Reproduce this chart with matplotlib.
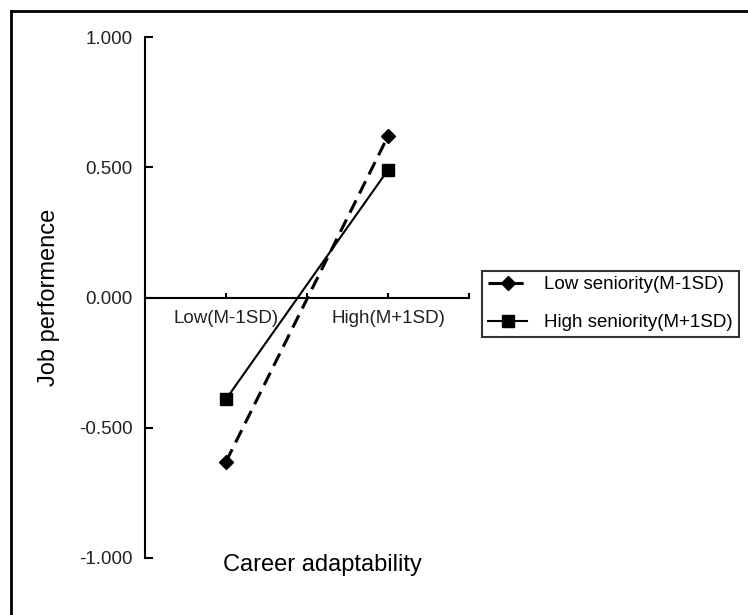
import matplotlib
matplotlib.use('Agg')
import matplotlib.pyplot as plt
from matplotlib.lines import Line2D

plt.rcParams['font.family'] = ['Liberation Sans', 'DejaVu Sans']

# data
categories = ['Low(M-1SD)', 'High(M+1SD)']
low_seniority = [-0.63, 0.62]
high_seniority = [-0.39, 0.49]
series_names = ['Low seniority(M-1SD)', 'High seniority(M+1SD)']
y_ticks = [-1.0, -0.5, 0.0, 0.5, 1.0]

x = [1, 2]

fig = plt.figure(figsize=(7.48, 6.15), dpi=100)
ax = fig.add_axes([0.1939, 0.0927, 0.4332, 0.8471])

ax.plot(x, low_seniority, color='black', lw=2.2, linestyle=(0, (4.5, 2.5)),
        marker='D', ms=7.5, label=series_names[0])
ax.plot(x, high_seniority, color='black', lw=1.5, marker='s', ms=9,
        label=series_names[1])

ax.set_xlim(0.5, 2.5)
ax.set_ylim(-1, 1)

# spines: y axis on the left, x axis through zero
ax.spines['top'].set_visible(False)
ax.spines['right'].set_visible(False)
ax.spines['bottom'].set_position(('data', 0))
ax.spines['left'].set_linewidth(1.5)
ax.spines['bottom'].set_linewidth(1.5)

ax.set_xticks(x)
ax.set_xticklabels(categories, fontsize=13.5, color='#222222')
ax.set_xticks([0.5, 1.5, 2.5], minor=True)
ax.tick_params(axis='x', which='both', direction='in', length=3.5, width=1.5, pad=9)

ax.set_yticks(y_ticks)
ax.set_yticklabels(['%.3f' % v for v in y_ticks], fontsize=13.5, color='#222222')
ax.tick_params(axis='y', direction='in', length=6, width=1.5, pad=9)

ax.set_xlabel('Career adaptability', fontsize=17, va='center')
ax.xaxis.set_label_coords(0.546, -0.013)
ax.set_ylabel('Job performence', fontsize=17, va='center')
ax.yaxis.set_label_coords(-0.295, 0.5)

leg = ax.legend(loc='center left', bbox_to_anchor=(0.645, 0.506),
                bbox_transform=fig.transFigure, fontsize=13.5, frameon=True,
                fancybox=False, edgecolor='black', borderpad=0.3,
                borderaxespad=0, handlelength=2.1, handletextpad=0.9,
                labelspacing=1.1)
leg.get_frame().set_linewidth(1.5)

# border round the picture (only top and left are visible)
fig.add_artist(Line2D([0.0147, 1.0], [0.982, 0.982], color='black', lw=2))
fig.add_artist(Line2D([0.0147, 0.0147], [0.0, 0.982], color='black', lw=2))

fig.savefig('out.png', dpi=100)
